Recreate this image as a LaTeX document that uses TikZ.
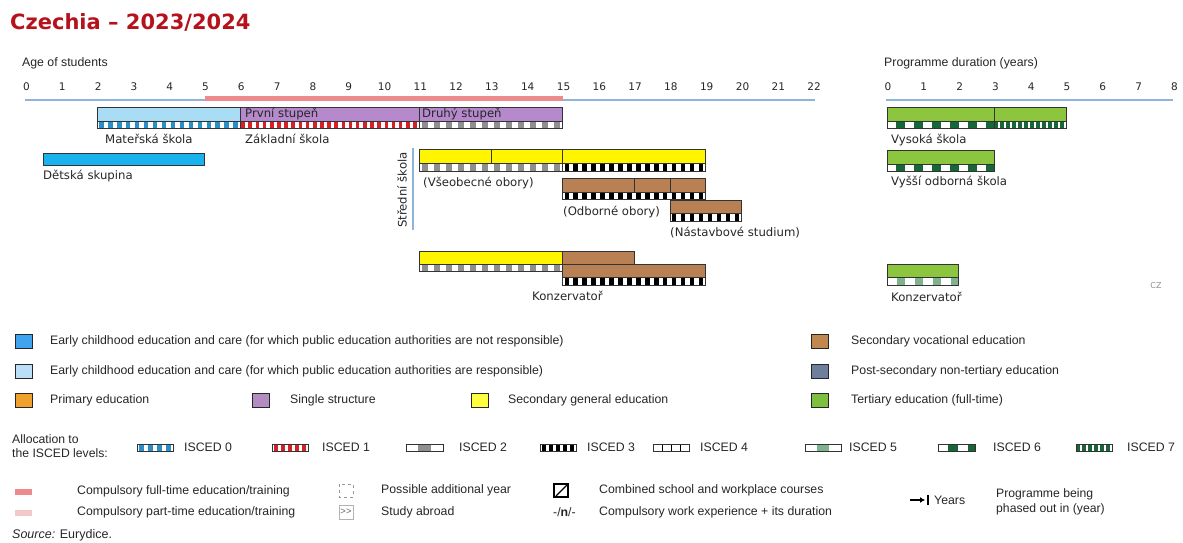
\documentclass[tikz,border=0pt]{standalone}
\usepackage{fontspec}
\setmainfont{Liberation Sans}
\newfontfamily\vfont{DejaVu Sans}
\usetikzlibrary{arrows.meta}
\definecolor{titlered}{HTML}{B5121B}
\definecolor{ececa}{HTML}{19B2EC}
\definecolor{ececal}{HTML}{3FA3F0}
\definecolor{ececb}{HTML}{A9DCF5}
\definecolor{ececbl}{HTML}{BCDFF8}
\definecolor{primcol}{HTML}{F0A02C}
\definecolor{singcol}{HTML}{B589CB}
\definecolor{singcoll}{HTML}{B48CC4}
\definecolor{secgen}{HTML}{FFF500}
\definecolor{secgenl}{HTML}{FFFF40}
\definecolor{secvoc}{HTML}{B98054}
\definecolor{secvocl}{HTML}{C0874E}
\definecolor{postsec}{HTML}{6D7F9C}
\definecolor{tert}{HTML}{8CC63E}
\definecolor{tertl}{HTML}{7FBF3F}
\definecolor{iscz}{HTML}{2A8FC6}
\definecolor{iscone}{HTML}{D42027}
\definecolor{isctwo}{HTML}{8F8F8F}
\definecolor{iscfive}{HTML}{7FB38E}
\definecolor{iscsix}{HTML}{17663A}
\definecolor{axisblue}{HTML}{8FB4DA}
\definecolor{comppink}{HTML}{EC8A8C}
\definecolor{comppinkl}{HTML}{F5C8C8}
\tikzset{
  barline/.style={draw=black!80, line width=0.8pt},
  lbl/.style={font=\vfont\fontsize{11.7}{13}\selectfont, anchor=west, inner sep=0pt, text=black!85},
  tick/.style={font=\vfont\fontsize{10.5}{12}\selectfont, inner sep=0pt, text=black!85},
  leg/.style={font=\fontsize{12.3}{14}\selectfont, anchor=west, inner sep=0pt, text=black!85},
  legbox/.style={draw=black!85, line width=0.9pt},
}
\newcommand{\iscedstrip}[8]{%
  \begin{scope}
    \clip (#1,#3) rectangle (#2,#4);
    \fill[white] (#1,#3) rectangle (#2,#4);
    \pgfmathtruncatemacro{\nrep}{ceil((#2-#1)/#6)+1}
    \foreach \k in {0,...,\nrep}{
      \fill[#5] ({#1+#8+\k*#6},#3) rectangle ({#1+#8+\k*#6+#7},#4);
    }
  \end{scope}
  \draw[barline] (#1,#3) rectangle (#2,#4);
}
\begin{document}
\begin{tikzpicture}[x=1pt,y=-1pt]
\useasboundingbox (0,0) rectangle (1183,543);
% title
\node[anchor=west, inner sep=0pt, font=\vfont\bfseries\fontsize{21}{23}\selectfont, text=titlered] (title) at (10,22) {Czechia – 2023/2024};
% age axis
\node[leg] (agelbl) at (22,63) {Age of students};
\foreach \a in {0,...,22} \node[tick] (age\a) at ({25.5+35.8*\a+1},87) {\a};
\coordinate (axA) at (25,99.5);
\coordinate (axB) at (815,99.5);
\draw[axisblue, line width=2pt] (axA) -- (axB);
\coordinate (cpA) at (204.5,98.3);
\coordinate (cpB) at (562.5,98.3);
\draw[comppink, line width=4.5pt] (cpA) -- (cpB);
% duration axis
\node[leg] (durlbl) at (884,63) {Programme duration (years)};
\foreach \a in {0,...,8} \node[tick] (dur\a) at ({887+35.8*\a+1},87) {\a};
\coordinate (dxA) at (886,100);
\coordinate (dxB) at (1173,100);
\draw[axisblue, line width=1.6pt] (dxA) -- (dxB);

% Materska skola
\filldraw[barline, fill=ececb] (97.1,107) rectangle (240.3,121);
\iscedstrip{97.1}{240.3}{121}{128}{iscz}{8.95}{4.5}{2}
% Zakladni skola
\filldraw[barline, fill=singcol] (240.3,107) rectangle (562.5,121);
\iscedstrip{240.3}{419.3}{121}{128}{iscone}{7.16}{3.6}{1}
\iscedstrip{419.3}{562.5}{121}{128}{isctwo}{11.93}{6}{3}
\draw[barline] (419.3,107) -- (419.3,128);
\node[lbl] (prvni) at (245,114.5) {První stupeň};
\node[lbl] (druhy) at (422,114.5) {Druhý stupeň};
\node[lbl] (materska) at (105,139) {Mateřská škola};
\node[lbl] (zakladni) at (245,139) {Základní škola};
% Detska skupina
\filldraw[barline, fill=ececa] (43.4,153) rectangle (204.5,165);
\node[lbl] (detska) at (43,176) {Dětská skupina};

% Stredni skola
\node[lbl, anchor=center, rotate=90] (stredni) at (402,190) {Střední škola};
\coordinate (ssA) at (413,148);
\coordinate (ssB) at (413,230);
\draw[axisblue, line width=1.6pt] (ssA) -- (ssB);
% Vseobecne obory
\filldraw[barline, fill=secgen] (419.3,149) rectangle (705.7,163);
\draw[barline] (490.9,149) -- (490.9,163) (562.5,149) -- (562.5,163);
\iscedstrip{419.3}{562.5}{163}{171}{isctwo}{11.93}{6}{3}
\iscedstrip{562.5}{705.7}{163}{171}{black}{8.95}{4.5}{2}
\node[lbl] (vseob) at (423,183) {(Všeobecné obory)};
% Odborne obory
\filldraw[barline, fill=secvoc] (562.5,178) rectangle (705.7,192);
\draw[barline] (634.1,178) -- (634.1,192) (669.9,178) -- (669.9,192);
\iscedstrip{562.5}{705.7}{192}{199}{black}{8.95}{4.5}{2}
\node[lbl] (odborne) at (563,212) {(Odborné obory)};
% Nastavbove studium
\filldraw[barline, fill=secvoc] (669.9,200) rectangle (741.5,213);
\iscedstrip{669.9}{741.5}{213}{221}{black}{8.95}{4.5}{2}
\node[lbl] (nastavb) at (670,233) {(Nástavbové studium)};
% Konzervator left
\filldraw[barline, fill=secgen] (419.3,251) rectangle (562.5,264);
\iscedstrip{419.3}{562.5}{264}{271}{isctwo}{11.93}{6}{3}
\filldraw[barline, fill=secvoc] (562.5,251) rectangle (634.1,264);
\filldraw[barline, fill=secvoc] (562.5,264) rectangle (705.7,277);
\iscedstrip{562.5}{705.7}{277}{285}{black}{8.95}{4.5}{2}
\node[lbl] (konzL) at (532,296) {Konzervatoř};

% Vysoka skola
\filldraw[barline, fill=tert] (887,107) rectangle (1066,121);
\iscedstrip{887}{994.4}{121}{128}{iscsix}{17.9}{9}{9}
\iscedstrip{994.4}{1066}{121}{128}{iscsix}{5.97}{4}{0}
\draw[barline] (994.4,107) -- (994.4,128);
\node[lbl] (vysoka) at (891,140) {Vysoká škola};
% Vyssi odborna skola
\filldraw[barline, fill=tert] (887,150) rectangle (994.4,164);
\iscedstrip{887}{994.4}{164}{171}{iscsix}{17.9}{9}{9}
\node[lbl] (vyssi) at (891,182) {Vyšší odborná škola};
% Konzervator right
\filldraw[barline, fill=tert] (887,264) rectangle (958.6,277);
\iscedstrip{887}{958.6}{277}{285}{iscfive}{17.9}{8}{10}
\node[lbl] (konzR) at (891,297) {Konzervatoř};
\node[font=\vfont\fontsize{8}{9}\selectfont, text=black!45, inner sep=0pt] (cz) at (1156,286) {CZ};

% legend: categories
\filldraw[legbox, fill=ececal] (15,334) rectangle (32,348);
\node[leg] (l1) at (50,341) {Early childhood education and care (for which public education authorities are not responsible)};
\filldraw[legbox, fill=ececbl] (15,364) rectangle (32,378);
\node[leg] (l2) at (50,371) {Early childhood education and care (for which public education authorities are responsible)};
\filldraw[legbox, fill=primcol] (15,393) rectangle (32,407);
\node[leg] (l3) at (50,400) {Primary education};
\filldraw[legbox, fill=singcoll] (252,393) rectangle (269,407);
\node[leg] (l4) at (290,400) {Single structure};
\filldraw[legbox, fill=secgenl] (471,393) rectangle (488,407);
\node[leg] (l5) at (508,400) {Secondary general education};
\filldraw[legbox, fill=secvocl] (811,334) rectangle (828,348);
\node[leg] (l6) at (851,341) {Secondary vocational education};
\filldraw[legbox, fill=postsec] (811,364) rectangle (828,378);
\node[leg] (l7) at (851,371) {Post-secondary non-tertiary education};
\filldraw[legbox, fill=tertl] (811,393) rectangle (828,407);
\node[leg] (l8) at (851,400) {Tertiary education (full-time)};

% legend: ISCED
\node[leg, align=left, font=\fontsize{12.2}{14}\selectfont] (alloc) at (12,446) {Allocation to\\the ISCED levels:};
\iscedstrip{137}{173}{444}{451}{iscz}{9}{5}{2}
\node[leg] (i0) at (184,447.5) {ISCED 0};
\iscedstrip{272}{308}{444}{451}{iscone}{7}{4}{2}
\node[leg] (i1) at (322,447.5) {ISCED 1};
\iscedstrip{406}{443}{444}{451}{isctwo}{40}{13}{12}
\node[leg] (i2) at (459,447.5) {ISCED 2};
\iscedstrip{540}{576}{444}{451}{black}{7}{3.5}{2}
\node[leg] (i3) at (587,447.5) {ISCED 3};
\iscedstrip{653}{689}{444}{451}{black}{9}{1}{8.5}
\node[leg] (i4) at (700,447.5) {ISCED 4};
\iscedstrip{805}{841}{444}{451}{iscfive}{40}{12}{12}
\node[leg] (i5) at (849,447.5) {ISCED 5};
\iscedstrip{938}{975}{444}{451}{iscsix}{20}{10}{10}
\node[leg] (i6) at (993,447.5) {ISCED 6};
\iscedstrip{1076}{1112}{444}{451}{iscsix}{6}{4}{0}
\node[leg] (i7) at (1127,447.5) {ISCED 7};

% legend: other symbols
\fill[comppink] (15,488.5) rectangle (32,495);
\node[leg] (c1) at (77,491) {Compulsory full-time education/training};
\fill[comppinkl] (15,509.5) rectangle (32,516);
\node[leg] (c2) at (77,512) {Compulsory part-time education/training};
\draw[black!40, dashed, line width=0.6pt] (339,484) rectangle (353,497);
\node[leg] (c3) at (381,490) {Possible additional year};
\draw[black!30, line width=0.6pt] (339,505) rectangle (353,519);
\node[font=\fontsize{9.5}{10}\selectfont, text=black!60, inner sep=0pt] (sa) at (346,512) {>\kern0pt>};
\node[leg] (c4) at (381,512) {Study abroad};
\draw[black, line width=1.2pt] (554,484) rectangle (568,497);
\draw[black, line width=1.2pt] (556,496) -- (567,485);
\node[leg] (c5) at (599,490) {Combined school and workplace courses};
\node[leg] (c6sym) at (553,512) {-/\textbf{n}/-};
\node[leg] (c6) at (599,512) {Compulsory work experience + its duration};
\coordinate (arA) at (910,500);
\coordinate (arB) at (925,500);
\draw[black, line width=1.6pt, -{Latex[length=5pt,width=6pt]}] (arA) -- (arB);
\draw[black, line width=1.8pt] (928,495) -- (928,505);
\node[leg] (yrs) at (934,500) {Years};
\node[leg, align=left, font=\fontsize{12.2}{15}\selectfont] (phase) at (996,501.5) {Programme being\\phased out in (year)};
\node[leg, font=\fontsize{12.5}{14}\selectfont] (src) at (12,535) {\textit{Source:} Eurydice.};
\end{tikzpicture}
\end{document}
